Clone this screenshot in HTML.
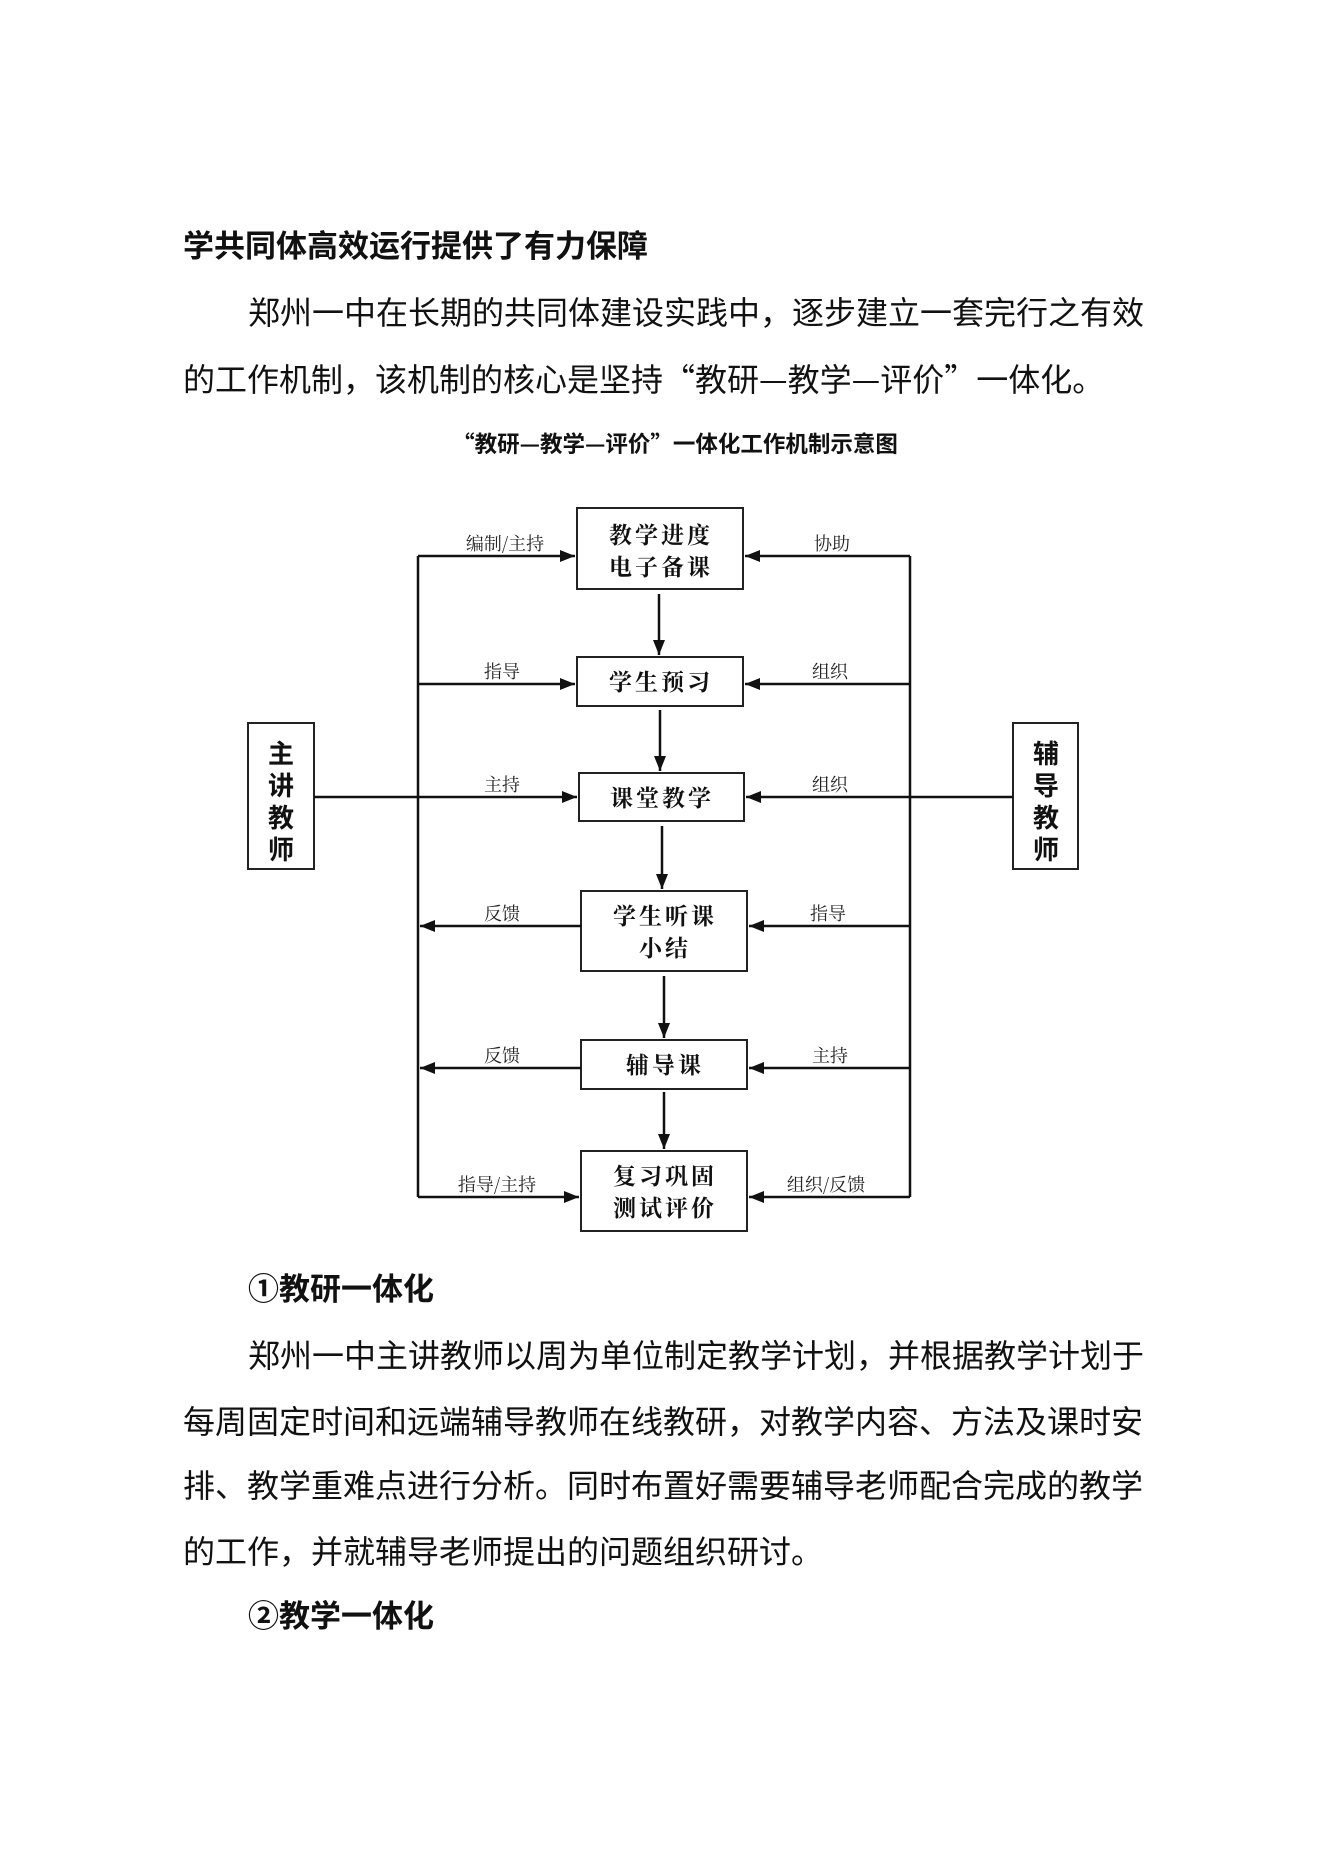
<!DOCTYPE html>
<html><head><meta charset="utf-8"><style>
html,body{margin:0;padding:0;background:#fff}
body{width:1323px;height:1871px;position:relative;overflow:hidden;font-family:"Liberation Sans","Noto Sans CJK SC",sans-serif;color:#111}
.l{position:absolute;white-space:nowrap;font-size:32px;line-height:40px;height:40px}
.b{font-weight:bold}
.q{font-family:"Noto Sans CJK SC",sans-serif}
</style></head><body>
<div class="l b" style="left:183px;top:227px;font-size:31px">学共同体高效运行提供了有力保障</div>
<div class="l" style="left:248px;top:293px">郑州一中在长期的共同体建设实践中，逐步建立一套完行之有效</div>
<div class="l q" style="left:183px;top:358px">的工作机制，该机制的核心是坚持“教研—教学—评价”一体化。</div>
<div class="l q b" style="left:430px;top:429px;font-size:22.5px;line-height:28px;height:28px;width:490px;text-align:center">“教研—教学—评价”一体化工作机制示意图</div>

<svg style="position:absolute;left:0;top:0" width="1323" height="1871">
<defs><marker id="d" markerWidth="16" markerHeight="16" refX="15" refY="6" orient="auto" markerUnits="userSpaceOnUse"><path d="M0,0L15,6L0,12z" fill="#111"/></marker></defs>
<g stroke="#222" stroke-width="2" fill="#fff">
<rect x="577" y="508" width="166" height="81"/>
<rect x="577" y="657" width="166" height="49"/>
<rect x="579" y="773" width="165" height="48"/>
<rect x="581" y="891" width="166" height="80"/>
<rect x="581" y="1040" width="166" height="49"/>
<rect x="581" y="1151" width="166" height="80"/>
<rect x="248" y="723" width="66" height="146"/>
<rect x="1013" y="723" width="65" height="146"/>
</g>
<g stroke="#111" stroke-width="2.5" fill="none">
<line x1="418" y1="556" x2="418" y2="1197"/>
<line x1="910" y1="556" x2="910" y2="1197"/>
<line x1="314" y1="797" x2="418" y2="797"/>
<line x1="910" y1="797" x2="1013" y2="797"/>
<line x1="418" y1="556" x2="575" y2="556" marker-end="url(#d)"/>
<line x1="418" y1="684" x2="575" y2="684" marker-end="url(#d)"/>
<line x1="418" y1="797" x2="577" y2="797" marker-end="url(#d)"/>
<line x1="581" y1="926" x2="420" y2="926" marker-end="url(#d)"/>
<line x1="581" y1="1068" x2="420" y2="1068" marker-end="url(#d)"/>
<line x1="418" y1="1197" x2="579" y2="1197" marker-end="url(#d)"/>
<line x1="910" y1="556" x2="745" y2="556" marker-end="url(#d)"/>
<line x1="910" y1="684" x2="745" y2="684" marker-end="url(#d)"/>
<line x1="910" y1="797" x2="746" y2="797" marker-end="url(#d)"/>
<line x1="910" y1="926" x2="749" y2="926" marker-end="url(#d)"/>
<line x1="910" y1="1068" x2="749" y2="1068" marker-end="url(#d)"/>
<line x1="910" y1="1197" x2="749" y2="1197" marker-end="url(#d)"/>
<line x1="659" y1="594" x2="659" y2="655" marker-end="url(#d)"/>
<line x1="660" y1="710" x2="660" y2="771" marker-end="url(#d)"/>
<line x1="662" y1="826" x2="662" y2="889" marker-end="url(#d)"/>
<line x1="664" y1="976" x2="664" y2="1038" marker-end="url(#d)"/>
<line x1="664" y1="1092" x2="664" y2="1149" marker-end="url(#d)"/>
</g>
<g font-family="'Liberation Serif','Noto Serif CJK SC',serif" font-size="23" font-weight="bold" text-anchor="middle" fill="#111" letter-spacing="3">
<text x="661" y="543">教学进度</text><text x="661" y="575">电子备课</text>
<text x="661" y="690">学生预习</text>
<text x="662" y="806">课堂教学</text>
<text x="665" y="924">学生听课</text><text x="665" y="956">小结</text>
<text x="665" y="1073">辅导课</text>
<text x="665" y="1184">复习巩固</text><text x="665" y="1216">测试评价</text>
</g>
<g font-family="'Liberation Sans','Noto Sans CJK SC',sans-serif" font-size="26" font-weight="bold" text-anchor="middle" fill="#111">
<text x="281" y="763">主</text><text x="281" y="795">讲</text><text x="281" y="827">教</text><text x="281" y="859">师</text>
<text x="1046" y="763">辅</text><text x="1046" y="795">导</text><text x="1046" y="827">教</text><text x="1046" y="859">师</text>
</g>
<g font-family="'Noto Serif CJK SC',serif" font-size="18" text-anchor="middle" fill="#222">
<text x="505" y="550">编制/主持</text><text x="832" y="550">协助</text>
<text x="502" y="678">指导</text><text x="830" y="678">组织</text>
<text x="502" y="791">主持</text><text x="830" y="791">组织</text>
<text x="502" y="920">反馈</text><text x="828" y="920">指导</text>
<text x="502" y="1062">反馈</text><text x="830" y="1062">主持</text>
<text x="497" y="1191">指导/主持</text><text x="826" y="1191">组织/反馈</text>
</g>
</svg>

<div class="l b" style="left:248px;top:1270px;font-size:31px">①教研一体化</div>
<div class="l" style="left:248px;top:1336px">郑州一中主讲教师以周为单位制定教学计划，并根据教学计划于</div>
<div class="l" style="left:183px;top:1402px">每周固定时间和远端辅导教师在线教研，对教学内容、方法及课时安</div>
<div class="l" style="left:183px;top:1466px">排、教学重难点进行分析。同时布置好需要辅导老师配合完成的教学</div>
<div class="l" style="left:183px;top:1532px">的工作，并就辅导老师提出的问题组织研讨。</div>
<div class="l b" style="left:248px;top:1597px;font-size:31px">②教学一体化</div>
</body></html>
